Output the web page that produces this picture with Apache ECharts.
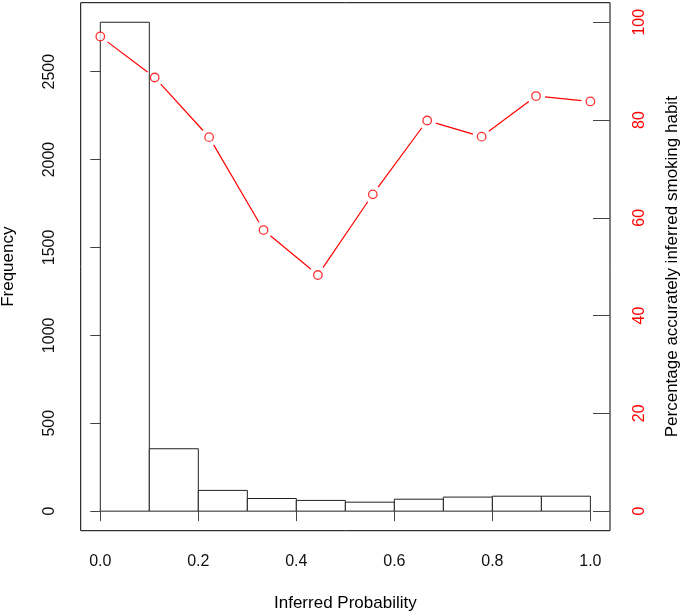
<!DOCTYPE html>
<html>
<head>
<meta charset="utf-8">
<script src="https://cdn.jsdelivr.net/npm/echarts@6/dist/echarts.min.js"></script>
<style>
  html, body { margin: 0; padding: 0; background: #fff; }
  #hist { width: 685px; height: 616px; }
</style>
</head>
<body>
<div id="hist"></div>
<script>
// histogram bins (inferred probability) and their counts
const binEdges = [0.0, 0.1, 0.2, 0.3, 0.4, 0.5, 0.6, 0.7, 0.8, 0.9, 1.0];
const counts = [2781, 355, 118, 72, 61, 51, 68, 80, 85, 85];
// red line: percentage accurately inferred
const probX = [0.0, 0.111, 0.222, 0.333, 0.444, 0.556, 0.667, 0.778, 0.889, 1.0];
const pctCorrect = [97.1, 88.7, 76.5, 57.5, 48.3, 64.8, 79.9, 76.6, 84.9, 83.8];
// tick labels
const xTicks = [0, 0.2, 0.4, 0.6, 0.8, 1.0];
const freqTicks = [0, 500, 1000, 1500, 2000, 2500];
const pctTicks = [0, 20, 40, 60, 80, 100];

const FONT = 'Liberation Sans';
const RED = '#ff0000';

var barData = [];
for (var i = 0; i < counts.length; i++) {
    barData.push([binEdges[i], binEdges[i + 1], counts[i]]);
}
var segData = [];
for (var j = 0; j < probX.length - 1; j++) {
    segData.push([probX[j], pctCorrect[j], probX[j + 1], pctCorrect[j + 1]]);
}
var ptData = probX.map(function (x, k) { return [x, pctCorrect[k]]; });

// R pads the data range by 4% on each side
var freqPad = Math.max.apply(null, counts) * 0.04;

var chart = echarts.init(document.getElementById('hist'));
var option = {
    animation: false,
    textStyle: { fontFamily: FONT },
    grid: {
        left: 80.7, right: 75, top: 2.7, bottom: 85.3,
        containLabel: false,
        outerBoundsMode: 'none',
        show: true, borderColor: '#000', borderWidth: 1, backgroundColor: 'transparent'
    },
    xAxis: {
        type: 'value',
        min: -0.04, max: 1.04,
        name: 'Inferred Probability',
        nameLocation: 'middle',
        nameGap: 64,
        nameMoveOverlap: false,
        nameTextStyle: { color: '#000', fontSize: 17, fontFamily: FONT },
        axisLine: { show: false },
        splitLine: { show: false },
        axisTick: { show: true, customValues: xTicks, length: 10, lineStyle: { color: '#444' } },
        axisLabel: {
            customValues: xTicks, margin: 23, color: '#111', fontSize: 16, fontFamily: FONT,
            formatter: function (v) { return v.toFixed(1); }
        }
    },
    yAxis: [{
        type: 'value',
        position: 'left',
        min: -freqPad, max: Math.max.apply(null, counts) + freqPad,
        name: 'Frequency',
        nameLocation: 'middle',
        nameGap: 64,
        nameRotate: 90,
        nameMoveOverlap: false,
        nameTextStyle: { color: '#000', fontSize: 17, fontFamily: FONT },
        axisLine: { show: false },
        splitLine: { show: false },
        axisTick: { show: true, customValues: freqTicks, length: 10, lineStyle: { color: '#444' } },
        axisLabel: {
            customValues: freqTicks, rotate: 90, margin: 23, color: '#111', fontSize: 16, fontFamily: FONT,
            formatter: function (v) { return String(v); }
        }
    }, {
        type: 'value',
        position: 'right',
        min: -4, max: 104,
        name: 'Percentage accurately inferred smoking habit',
        nameLocation: 'middle',
        nameGap: 54,
        nameRotate: 90,
        nameMoveOverlap: false,
        nameTextStyle: { color: '#000', fontSize: 17, fontFamily: FONT },
        axisLine: { show: false },
        splitLine: { show: false },
        axisTick: { show: true, inside: true, customValues: pctTicks, length: 17, lineStyle: { color: '#444' } },
        axisLabel: {
            customValues: pctTicks, rotate: 90, margin: 22, color: RED, fontSize: 16, fontFamily: FONT
        }
    }],
    series: [{
        type: 'custom',
        name: 'Frequency',
        yAxisIndex: 0,
        z: 1,
        data: barData,
        renderItem: function (params, api) {
            var p0 = api.coord([api.value(0), 0]);
            var p1 = api.coord([api.value(1), api.value(2)]);
            return {
                type: 'rect',
                shape: { x: p0[0], y: p1[1], width: p1[0] - p0[0], height: p0[1] - p1[1] },
                style: { fill: '#fff', stroke: '#222', lineWidth: 1 }
            };
        }
    }, {
        // line segments with gaps around the points (R type = "b")
        type: 'custom',
        yAxisIndex: 1,
        z: 3,
        data: segData,
        renderItem: function (params, api) {
            var a = api.coord([api.value(0), api.value(1)]);
            var b = api.coord([api.value(2), api.value(3)]);
            var dx = b[0] - a[0], dy = b[1] - a[1];
            var len = Math.sqrt(dx * dx + dy * dy);
            var gap = 9;
            if (len <= gap * 2) return null;
            var ux = dx / len, uy = dy / len;
            return {
                type: 'line',
                shape: { x1: a[0] + ux * gap, y1: a[1] + uy * gap, x2: b[0] - ux * gap, y2: b[1] - uy * gap },
                style: { stroke: RED, lineWidth: 1.2 }
            };
        }
    }, {
        type: 'scatter',
        yAxisIndex: 1,
        z: 4,
        symbol: 'circle',
        symbolSize: 8.5,
        itemStyle: { color: '#fff', borderColor: RED, borderWidth: 1.3 },
        data: ptData
    }]
};
chart.setOption(option);
window.addEventListener('resize', function () {
    chart.resize();
});
</script>
</body>
</html>
